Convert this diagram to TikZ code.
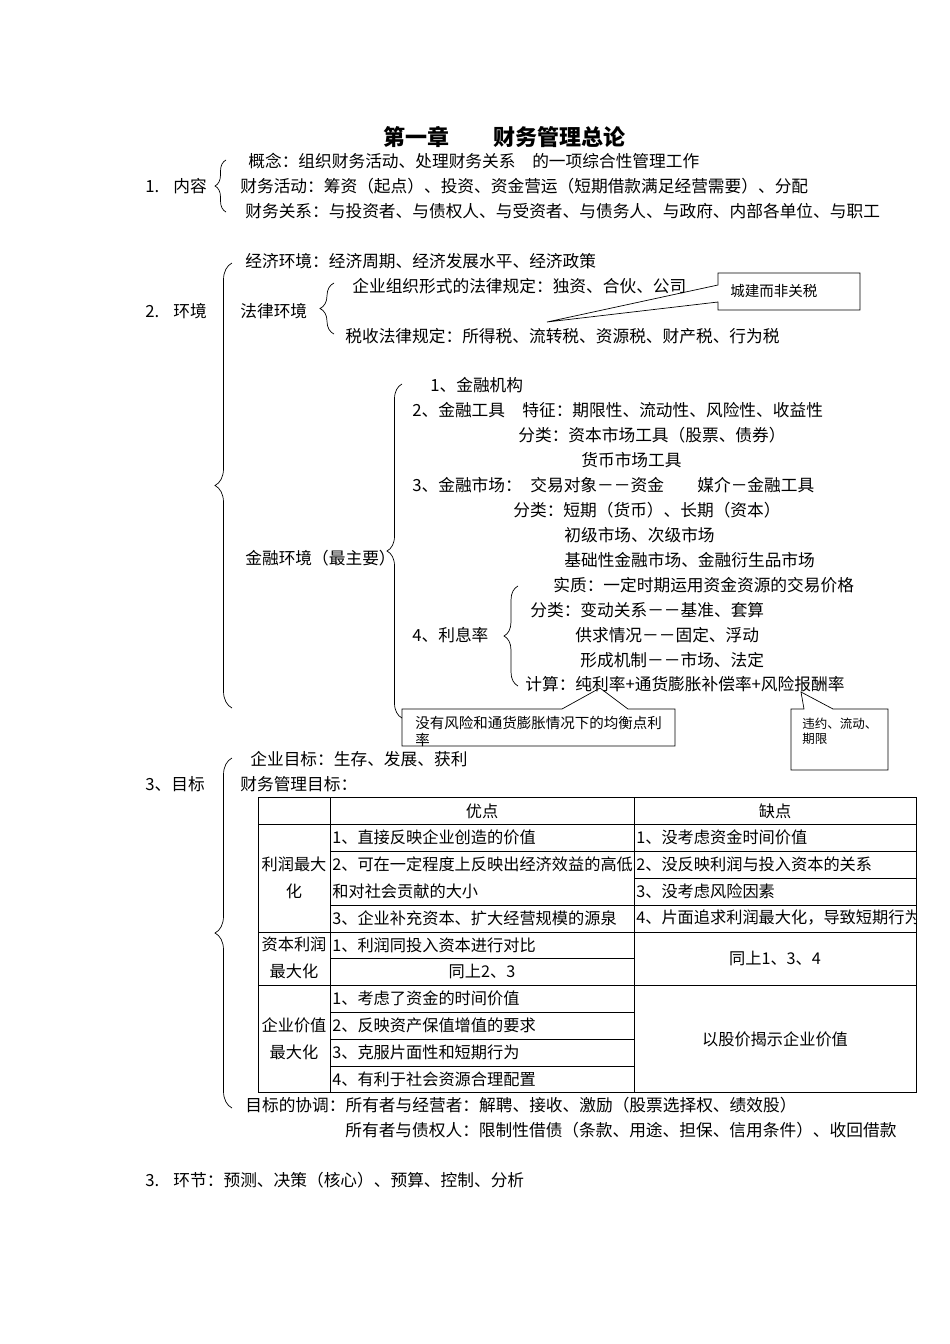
\documentclass[tikz,border=0pt]{standalone}
\usepackage{fontspec}
\setmainfont{Noto Sans CJK SC}
\usetikzlibrary{decorations.pathreplacing}

\begin{document}
\begin{tikzpicture}[x=1pt,y=-1pt,line width=.7pt,
    txt/.style={anchor=west,inner sep=0pt,font=\fontsize{16.7}{20}\selectfont},
    cell/.style={anchor=west,inner sep=0pt,font=\fontsize{16.2}{20}\selectfont},
    mid/.style={inner sep=0pt,font=\fontsize{16.2}{20}\selectfont},
    brc/.style={decorate,decoration={brace,amplitude=#1}},
    note/.style={anchor=north west,inner sep=0pt,align=left,font=\fontsize{14.5}{16.5}\selectfont}]
\useasboundingbox (0,0) rectangle (950,1344);
\fill[white] (0,0) rectangle (950,1344);

% title
\node[inner sep=0pt,font=\fontsize{22}{26}\selectfont\bfseries] (title) at (504,137) {第一章\hspace{2em}财务管理总论};

% 1. content
\node[txt] (sec1) at (145,186) {1.\hspace{.85em}内容};
\draw[brc=11pt] (226,212) -- (226,160);
\node[txt] (concept) at (248,161) {概念：组织财务活动、处理财务关系　的一项综合性管理工作};
\node[txt] (activity) at (240,186) {财务活动：筹资（起点）、投资、资金营运（短期借款满足经营需要）、分配};
\node[txt] (relation) at (245,211) {财务关系：与投资者、与债权人、与受资者、与债务人、与政府、内部各单位、与职工};

% 2. environment
\node[txt] (sec2) at (145,311) {2.\hspace{.85em}环境};
\draw[brc=17pt] (232,708) -- (232,263);
\node[txt] (econ) at (245,261) {经济环境：经济周期、经济发展水平、经济政策};
\node[txt] (law) at (240,311) {法律环境};
\draw[brc=14pt] (334,334) -- (334,283);
\node[txt] (lawOrg) at (352,286) {企业组织形式的法律规定：独资、合伙、公司};
\node[txt] (lawTax) at (345,336) {税收法律规定：所得税、流转税、资源税、财产税、行为税};
% note on tax
\node[note,anchor=west] (taxNote) at (730,291) {城建而非关税};
\coordinate (taxTip) at (547,322);
\draw (718,285) -- (taxTip) -- (718,302) -- (718,310) -- (860,310) -- (860,273) -- (718,273) -- cycle;

% financial environment
\node[txt] (fin) at (245,558) {金融环境（最主要）};
\draw[brc=15pt] (402,718) -- (402,384);
\node[txt] (inst) at (430,385) {1、金融机构};
\node[txt] (tool) at (412,410) {2、金融工具};
\node[txt] (toolFeat) at (522,410) {特征：期限性、流动性、风险性、收益性};
\node[txt] (toolCls) at (518,435) {分类：资本市场工具（股票、债券）};
\node[txt] (toolMon) at (581,460) {货币市场工具};
\node[txt] (mkt) at (412,485) {3、金融市场：};
\node[txt] (mktObj) at (530,485) {交易对象－－资金};
\node[txt] (mktMed) at (697,485) {媒介－金融工具};
\node[txt] (mktCls) at (513,510) {分类：短期（货币）、长期（资本）};
\node[txt] (mktLvl) at (564,535) {初级市场、次级市场};
\node[txt] (mktBase) at (564,560) {基础性金融市场、金融衍生品市场};
% interest rate
\node[txt] (rate) at (412,635) {4、利息率};
\draw[brc=14pt] (518,686) -- (518,586);
\node[txt] (rateEss) at (553,585) {实质：一定时期运用资金资源的交易价格};
\node[txt] (rateCls) at (530,610) {分类：变动关系－－基准、套算};
\node[txt] (rateSup) at (575,635) {供求情况－－固定、浮动};
\node[txt] (rateMech) at (580,660) {形成机制－－市场、法定};
\node[txt] (rateCalc) at (525,684) {计算：纯利率+通货膨胀补偿率+风险报酬率};
% notes on the formula
\node[note] (pureNote) at (415,716) {没有风险和通货膨胀情况下的均衡点利\\率};
\coordinate (pureTip) at (600,688);
\draw (402,709) -- (562,709) -- (pureTip) -- (628,709) -- (675,709) -- (675,746) -- (402,746) -- cycle;
\node[note,font=\fontsize{12.5}{15}\selectfont] (riskNote) at (802,718) {违约、流动、\\期限};
\coordinate (riskTip) at (801,692);
\draw (791,709) -- (804,709) -- (riskTip) -- (833,709) -- (888,709) -- (888,770) -- (791,770) -- cycle;

% 3. goals
\node[txt] (sec3) at (145,784) {3、目标};
\draw[brc=17pt] (232,1108) -- (232,758);
\node[txt] (goalCorp) at (250,759) {企业目标：生存、发展、获利};
\node[txt] (goalFin) at (240,784) {财务管理目标：};

% table
\draw (258,797) rectangle (916,1092);
\draw (330,797) -- (330,1092);
\draw (634,797) -- (634,1092);
\foreach \y in {824,932,985} \draw (258,\y) -- (916,\y);
\foreach \y in {851,905} \draw (330,\y) -- (916,\y);
\draw (634,878) -- (916,878);
\foreach \y in {958,1012,1039,1066} \draw (330,\y) -- (634,\y);
\node[mid] (hPro) at (482,811) {优点};
\node[mid] (hCon) at (775,811) {缺点};
% profit maximisation
\node[mid,align=center,font=\fontsize{16.2}{27}\selectfont] (profit) at (294,878) {利润最大\\化};
\node[cell] (pPro1) at (332,837) {1、直接反映企业创造的价值};
\node[cell] (pPro2) at (332,864) {2、可在一定程度上反映出经济效益的高低};
\node[cell] (pPro2b) at (332,891) {和对社会贡献的大小};
\node[cell] (pPro3) at (332,918) {3、企业补充资本、扩大经营规模的源泉};
\node[cell] (pCon1) at (636,837) {1、没考虑资金时间价值};
\node[cell] (pCon2) at (636,864) {2、没反映利润与投入资本的关系};
\node[cell] (pCon3) at (636,891) {3、没考虑风险因素};
\begin{scope}
  \clip (634,905) rectangle (916,932);
  \node[cell] (pCon4) at (636,918) {4、片面追求利润最大化，导致短期行为};
\end{scope}
% return on capital
\node[mid,align=center,font=\fontsize{16.2}{26.5}\selectfont] (capital) at (294,958) {资本利润\\最大化};
\node[cell] (cPro1) at (332,945) {1、利润同投入资本进行对比};
\node[mid] (cPro2) at (482,971) {同上2、3};
\node[mid] (cCon) at (775,958) {同上1、3、4};
% firm value
\node[mid,align=center,font=\fontsize{16.2}{26.5}\selectfont] (value) at (294,1039) {企业价值\\最大化};
\node[cell] (vPro1) at (332,998) {1、考虑了资金的时间价值};
\node[cell] (vPro2) at (332,1025) {2、反映资产保值增值的要求};
\node[cell] (vPro3) at (332,1052) {3、克服片面性和短期行为};
\node[cell] (vPro4) at (332,1079) {4、有利于社会资源合理配置};
\node[mid] (vCon) at (775,1039) {以股价揭示企业价值};

% coordination
\node[txt] (coord1) at (245,1105) {目标的协调：所有者与经营者：解聘、接收、激励（股票选择权、绩效股）};
\node[txt] (coord2) at (345,1130) {所有者与债权人：限制性借债（条款、用途、担保、信用条件）、收回借款};

% 4. steps
\node[txt] (sec4) at (145,1180) {3.\hspace{.85em}环节：预测、决策（核心）、预算、控制、分析};
\end{tikzpicture}
\end{document}
